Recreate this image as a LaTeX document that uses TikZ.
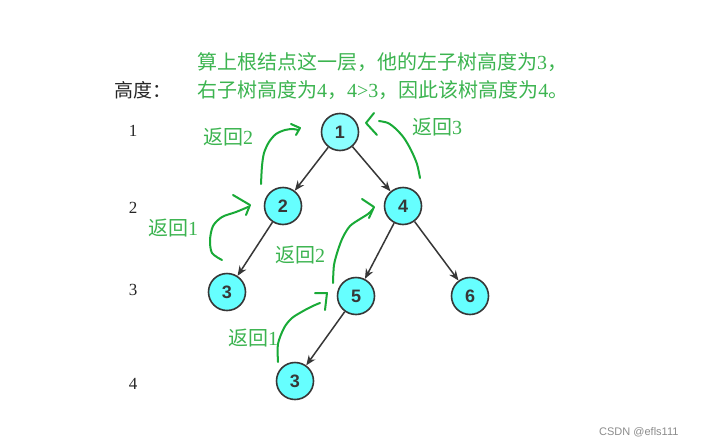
\documentclass[tikz,border=0pt]{standalone}
\usepackage{fontspec}
\setmainfont{Liberation Serif}
\newfontfamily\cjk{Noto Sans CJK SC}
\newfontfamily\nodefont{Liberation Sans}
\usetikzlibrary{arrows.meta}
\definecolor{txtgreen}{RGB}{60,180,80}
\definecolor{pengreen}{RGB}{25,170,55}
\definecolor{nodefill}{RGB}{102,255,255}
\definecolor{rootfill}{RGB}{140,255,255}
\definecolor{edgegray}{RGB}{55,55,55}
\begin{document}
\begin{tikzpicture}[x=1pt,y=-1pt,
  tn/.style={circle,draw=edgegray,line width=1.6pt,fill=nodefill,minimum size=37pt,inner sep=0pt,
    font=\nodefont\bfseries\fontsize{18}{18}\selectfont,text=edgegray},
  tedge/.style={draw=edgegray,line width=1.5pt,-{Stealth[length=10pt,width=8pt]}},
  lvl/.style={font=\fontsize{17}{17}\selectfont,text=black!85},
  note/.style={text=txtgreen,font=\fontsize{20}{20}\selectfont,inner sep=0pt},
  pen/.style={draw=pengreen,line width=2pt,line cap=round,line join=round}]
\useasboundingbox (0,0) rectangle (706,442);
\fill[white] (0,0) rectangle (706,442);

% header texts
\node[note,anchor=west] (t1) at (197,62) {{\cjk 算上根结点这一层，他的左子树高度为}3{\cjk ，}};
\node[note,anchor=west] (t2) at (197,90) {{\cjk 右子树高度为}4{\cjk ，}4>3{\cjk ，因此该树高度为}4{\cjk 。}};
\node[anchor=west,inner sep=0pt,font=\cjk\fontsize{19}{19}\selectfont,text=black!85] (hd) at (114,90) {高度：};

% level numbers
\node[lvl] (l1) at (133,131) {1};
\node[lvl] (l2) at (133,208) {2};
\node[lvl] (l3) at (133,290) {3};
\node[lvl] (l4) at (133,384) {4};

% tree nodes
\node[tn,fill=rootfill] (n1) at (340,132) {1};
\node[tn] (n2) at (283,206) {2};
\node[tn] (n4) at (403,206) {4};
\node[tn] (n3a) at (227,292) {3};
\node[tn] (n5) at (356,296) {5};
\node[tn] (n6) at (470,296) {6};
\node[tn] (n3b) at (295,381) {3};

\draw[tedge] (n1) -- (n2);
\draw[tedge] (n1) -- (n4);
\draw[tedge] (n2) -- (n3a);
\draw[tedge] (n4) -- (n5);
\draw[tedge] (n4) -- (n6);
\draw[tedge] (n5) -- (n3b);

% return labels
\node[note,anchor=west] (r2a) at (203,137) {{\cjk 返回}2};
\node[note,anchor=west] (r3) at (412,127) {{\cjk 返回}3};
\node[note,anchor=west] (r1a) at (148,228) {{\cjk 返回}1};
\node[note,anchor=west] (r2b) at (275,255) {{\cjk 返回}2};
\node[note,anchor=west] (r1b) at (228,338) {{\cjk 返回}1};

% hand drawn green arrows
\draw[pen] plot[smooth] coordinates {(261,184) (262,166) (264,153) (269,142) (276,134) (285,130) (293,129) (298,130)};
\draw[pen] (291,124) -- (300,128) -- (296,135);

\draw[pen] plot[smooth] coordinates {(420,178) (417,164) (411,150) (404,138) (396,129) (388,123) (379,121)};
\draw[pen] (374,113) -- (366,123) -- (377,135);

\draw[pen] plot[smooth] coordinates {(222,260) (212,253) (210,240) (213,226) (222,217) (236,212) (248,207)};
\draw[pen] (233,195) -- (250,205) -- (246,215);

\draw[pen] plot[smooth] coordinates {(333,283) (334,265) (338,250) (343,237) (350,226) (360,219) (368,214) (373,209)};
\draw[pen] (362,199) -- (374,207) -- (369,218);

\draw[pen] plot[smooth] coordinates {(278,362) (278,344) (284,328) (292,318) (305,310) (315,305) (320,303)};
\draw[pen] (315,293) -- (327,293) -- (325,310);

% watermark
\node[anchor=west,inner sep=0pt,font=\nodefont\fontsize{11}{11}\selectfont,text=black!45] (wm) at (599,432) {CSDN @efls111};
\end{tikzpicture}
\end{document}
